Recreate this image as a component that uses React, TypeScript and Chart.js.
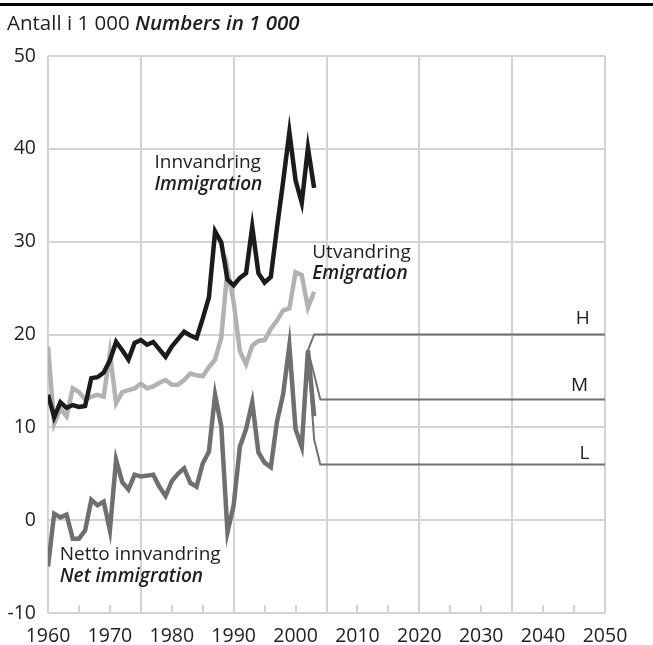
import React, { useEffect, useRef } from 'react';
import { Chart, registerables } from 'chart.js';

Chart.register(...registerables);

const years = [
  1960, 1961, 1962, 1963, 1964, 1965, 1966, 1967, 1968, 1969,
  1970, 1971, 1972, 1973, 1974, 1975, 1976, 1977, 1978, 1979,
  1980, 1981, 1982, 1983, 1984, 1985, 1986, 1987, 1988, 1989,
  1990, 1991, 1992, 1993, 1994, 1995, 1996, 1997, 1998, 1999,
  2000, 2001, 2002, 2003,
];

const immigration = [
  13.5, 11.1, 12.7, 12.1, 12.4, 12.2, 12.3, 15.3, 15.4, 15.9,
  17.2, 19.2, 18.3, 17.3, 19.1, 19.4, 18.9, 19.2, 18.4, 17.6,
  18.7, 19.5, 20.3, 19.9, 19.6, 21.7, 24.0, 31.1, 29.9, 25.9,
  25.3, 26.1, 26.6, 31.6, 26.6, 25.6, 26.2, 31.5, 36.5, 41.8,
  36.6, 34.2, 40.1, 35.8,
];

const emigration = [
  18.7, 10.4, 12.0, 11.2, 14.2, 13.8, 13.0, 13.3, 13.5, 13.3,
  18.0, 12.6, 13.8, 14.0, 14.2, 14.7, 14.2, 14.4, 14.8, 15.1,
  14.6, 14.6, 15.1, 15.8, 15.6, 15.5, 16.5, 17.3, 19.7, 27.0,
  23.5, 18.2, 16.8, 18.8, 19.3, 19.4, 20.6, 21.5, 22.6, 22.8,
  26.7, 26.4, 22.9, 24.6,
];

const netImmigration = [
  -5.0, 0.7, 0.3, 0.6, -2.0, -2.0, -1.1, 2.2, 1.6, 2.0,
  -1.1, 6.5, 4.1, 3.3, 4.9, 4.7, 4.8, 4.9, 3.6, 2.6,
  4.2, 5.0, 5.6, 4.0, 3.6, 6.1, 7.4, 13.5, 10.1, -1.3,
  1.6, 7.9, 9.8, 12.7, 7.3, 6.2, 5.7, 10.6, 13.6, 18.8,
  9.8, 7.9, 18.3, 11.2,
];

const projYears = [2002, 2003, 2004, 2050];
const projHigh = [18.3, 20.0, 20.0, 20.0];
const projMid = [18.3, 15.7, 13.0, 13.0];
const projLow = [18.3, 8.7, 6.0, 6.0];

const xTickLabels = [1960, 1970, 1980, 1990, 2000, 2010, 2020, 2030, 2040, 2050];

const FONT = '"Open Sans", "Noto Sans", sans-serif';
const GRID = '#d3d3d5';
const TEXT = '#1e1e1e';

const toPoints = (xs: number[], ys: number[]) => xs.map((x, i) => ({ x, y: ys[i] }));

const chromePlugin = {
  id: 'chrome',
  beforeDraw(chart: any) {
    const ctx = chart.ctx;
    ctx.save();
    ctx.fillStyle = '#000';
    ctx.fillRect(0, 3, chart.width, 3);
    ctx.fillStyle = TEXT;
    ctx.textBaseline = 'alphabetic';
    ctx.textAlign = 'left';
    ctx.font = `20.5px ${FONT}`;
    const a = 'Antall i 1 000 ';
    ctx.fillText(a, 7, 30);
    const w = ctx.measureText(a).width;
    ctx.font = `italic 600 20.5px ${FONT}`;
    ctx.fillText('Numbers in 1 000', 7 + w, 30);
    ctx.restore();
  },
  beforeDatasetsDraw(chart: any) {
    const ctx = chart.ctx;
    const xs = chart.scales.x;
    const bottom = chart.chartArea.bottom;
    ctx.save();
    ctx.strokeStyle = GRID;
    ctx.lineWidth = 2;
    xs.ticks.forEach((t: any) => {
      const v = t.value;
      if ((v - 1960) % 15 === 0) return;
      const px = Math.round(xs.getPixelForValue(v));
      ctx.beginPath();
      ctx.moveTo(px, bottom);
      ctx.lineTo(px, bottom - 8);
      ctx.stroke();
    });
    ctx.restore();
  },
  afterDatasetsDraw(chart: any) {
    const ctx = chart.ctx;
    const xs = chart.scales.x;
    const ys = chart.scales.y;
    const put = (txt: string, x: number, y: number, font: string, align: CanvasTextAlign = 'left') => {
      ctx.font = font;
      ctx.textAlign = align;
      ctx.fillText(txt, xs.getPixelForValue(x), ys.getPixelForValue(y));
    };
    ctx.save();
    ctx.fillStyle = TEXT;
    ctx.textBaseline = 'middle';
    const reg = `19px ${FONT}`;
    const ital = `italic 600 19px ${FONT}`;
    put('Innvandring', 1977.2, 38.5, reg);
    put('Immigration', 1977.2, 36.1, ital);
    put('Utvandring', 2002.7, 28.8, reg);
    put('Emigration', 2002.7, 26.6, ital);
    put('Netto innvandring', 1961.9, -3.75, reg);
    put('Net immigration', 1961.9, -6.1, ital);
    put('H', 2046.4, 21.7, reg, 'center');
    put('M', 2045.9, 14.5, reg, 'center');
    put('L', 2046.7, 7.2, reg, 'center');
    ctx.restore();
  },
};

export default function App() {
  const ref = useRef<HTMLCanvasElement | null>(null);

  useEffect(() => {
    if (!ref.current) return;
    const projStyle = {
      borderColor: '#707072',
      borderWidth: 2,
      pointRadius: 0,
      fill: false,
      tension: 0,
    };
    const chart = new Chart(ref.current, {
      type: 'line',
      data: {
        datasets: [
          { label: 'H', data: toPoints(projYears, projHigh), ...projStyle, order: 5 },
          { label: 'M', data: toPoints(projYears, projMid), ...projStyle, order: 5 },
          { label: 'L', data: toPoints(projYears, projLow), ...projStyle, order: 5 },
          {
            label: 'Netto innvandring',
            data: toPoints(years, netImmigration),
            borderColor: '#6f6f72',
            borderWidth: 4.5,
            pointRadius: 0,
            order: 4,
          },
          {
            label: 'Utvandring',
            data: toPoints(years, emigration),
            borderColor: '#b2b2b4',
            borderWidth: 4.5,
            pointRadius: 0,
            order: 3,
          },
          {
            label: 'Innvandring',
            data: toPoints(years, immigration),
            borderColor: '#1c1a1b',
            borderWidth: 4.5,
            pointRadius: 0,
            order: 1,
          },
        ],
      },
      options: {
        animation: false,
        responsive: false,
        devicePixelRatio: 1,
        layout: { padding: { left: 0, right: 48, top: 56, bottom: 0 } },
        plugins: {
          legend: { display: false },
          tooltip: { enabled: false },
          title: { display: false },
        },
        elements: { line: { borderJoinStyle: 'miter', borderCapStyle: 'butt' } },
        scales: {
          x: {
            type: 'linear',
            min: 1960,
            max: 2050,
            afterFit: (s: any) => {
              s.height = 32;
            },
            ticks: {
              stepSize: 5,
              autoSkip: false,
              maxRotation: 0,
              padding: 12,
              color: TEXT,
              font: { family: FONT, size: 19.5 },
              callback: (v: any) => (xTickLabels.includes(Number(v)) ? String(v) : ''),
            },
            grid: {
              color: (c: any) =>
                c.tick && (c.tick.value - 1960) % 15 === 0 ? GRID : 'rgba(0,0,0,0)',
              lineWidth: 2,
              drawTicks: false,
            },
            border: { display: false },
          },
          y: {
            min: -10,
            max: 50,
            afterFit: (s: any) => {
              s.width = 48;
            },
            ticks: {
              stepSize: 10,
              padding: 12,
              color: TEXT,
              font: { family: FONT, size: 19.5 },
            },
            grid: { color: GRID, lineWidth: 2, drawTicks: false },
            border: { display: false },
          },
        },
      },
      plugins: [chromePlugin],
    });
    return () => chart.destroy();
  }, []);

  return (
    <div style={{ position: 'absolute', left: 0, top: 0, width: 653, height: 645, background: '#fff' }}>
      <canvas ref={ref} width={653} height={645} style={{ width: 653, height: 645, display: 'block' }} />
    </div>
  );
}
